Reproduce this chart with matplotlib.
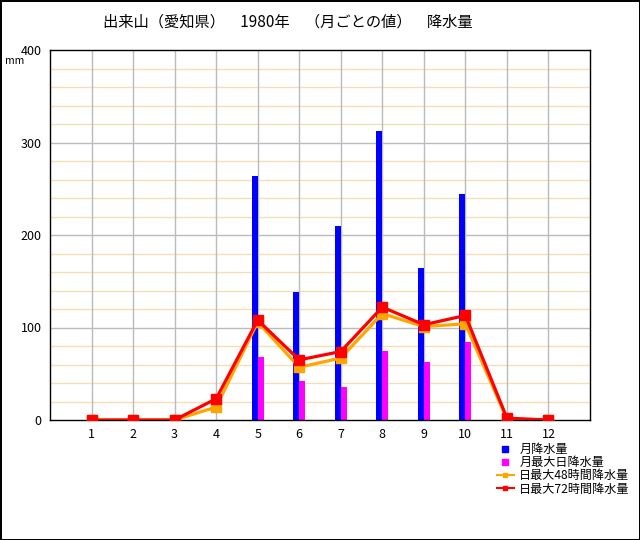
import matplotlib
matplotlib.use("Agg")
import matplotlib.pyplot as plt
from matplotlib.lines import Line2D
import numpy as np

plt.rcParams['font.family'] = ['Noto Sans CJK JP', 'DejaVu Sans']

months = [1, 2, 3, 4, 5, 6, 7, 8, 9, 10, 11, 12]
month_labels = [str(m) for m in months]
monthly_total = [0, 0, 0, 0, 264, 138, 210, 312, 164, 244, 0, 0]
max_daily = [0, 0, 0, 0, 68, 42, 36, 75, 63, 84, 0, 0]
max_48h = [0, 0, 0, 14, 106, 57, 67, 115, 101, 104, 1, 0]
max_72h = [0, 0, 0, 23, 108, 65, 74, 122, 103, 113, 2, 0]

title = "出来山（愛知県）　1980年　（月ごとの値）　降水量"
legend_labels = ["月降水量", "月最大日降水量", "日最大48時間降水量", "日最大72時間降水量"]

fig = plt.figure(figsize=(6.4, 5.4), dpi=100)
fig.patch.set_facecolor("white")
fig.patch.set_edgecolor("black")
fig.patch.set_linewidth(2)

ax = fig.add_axes([50/640, 1-420/540, 540/640, 370/540])
ax.set_xlim(0, 13)
ax.set_ylim(0, 400)

# grid
for y in range(20, 400, 20):
    if y % 100 == 0:
        ax.axhline(y, color="#bbbbbb", lw=1, zorder=0)
    else:
        ax.axhline(y, color="#f5deb3", lw=1, zorder=0)
for m in months:
    ax.axvline(m, color="#bbbbbb", lw=1, zorder=0)

x = np.array(months)
w = 0.145
ax.bar(x - w/2, monthly_total, width=w, color="#0000ff", zorder=2)
ax.bar(x + w/2, max_daily, width=w, color="#ff00ff", zorder=2)
ax.plot(x, max_48h, color="#ffa500", lw=2.3, marker="s", ms=6.5, zorder=3)
ax.plot(x, max_72h, color="#ff0000", lw=2.3, marker="s", ms=6.5, zorder=4)

ax.set_xticks(months)
ax.set_xticklabels(month_labels)
ax.set_yticks([0, 100, 200, 300, 400])
ax.tick_params(length=0, labelsize=9, pad=6)
for s in ax.spines.values():
    s.set_color("black")
    s.set_linewidth(1)

fig.text(288/640, 1-22/540, title, ha="center", va="center", fontsize=11)
fig.text(15/640, 1-61/540, "mm", ha="center", va="center", fontsize=7.5)

handles = [
    Line2D([], [], color="none", marker="s", markerfacecolor="#0000ff", markeredgecolor="#0000ff", ms=5),
    Line2D([], [], color="none", marker="s", markerfacecolor="#ff00ff", markeredgecolor="#ff00ff", ms=5),
    Line2D([], [], color="#ffa500", lw=1.5, marker="s", ms=3),
    Line2D([], [], color="#ff0000", lw=1.5, marker="s", ms=3),
]
fig.legend(handles, legend_labels, loc="upper left", bbox_to_anchor=(497/640, 1-443/540),
           frameon=False, fontsize=8.7, handlelength=1.4, handletextpad=0.45,
           labelspacing=0.02, borderaxespad=0, borderpad=0)

fig.savefig("out.png", dpi=100, facecolor=fig.get_facecolor(), edgecolor=fig.get_edgecolor())
